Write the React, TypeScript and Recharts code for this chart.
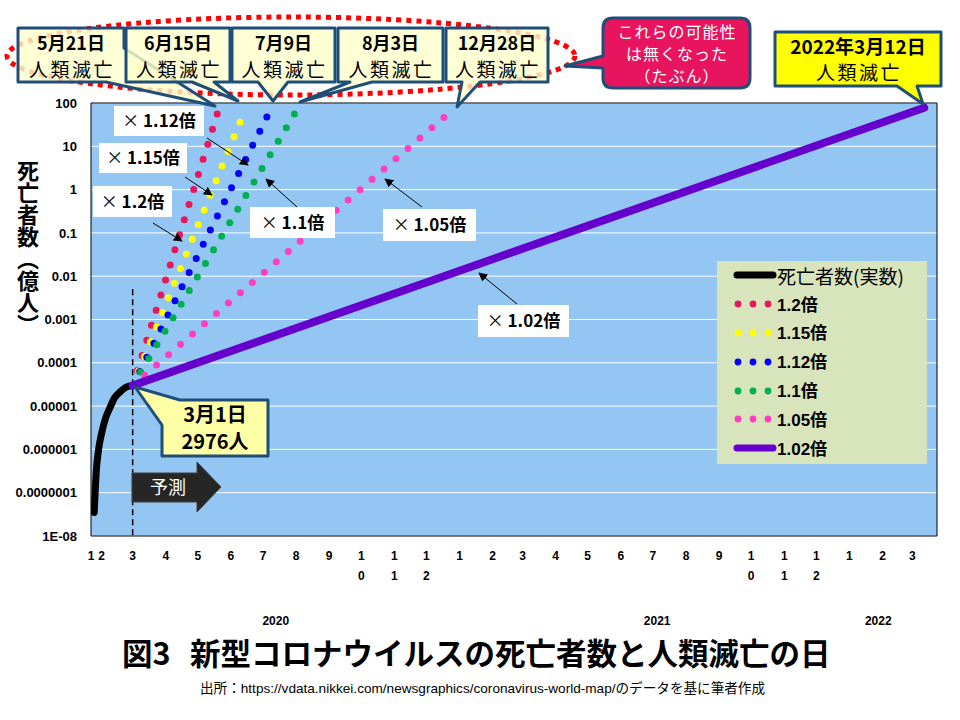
import React from 'react'
import {
  LineChart,
  Line,
  XAxis,
  YAxis,
  CartesianGrid,
  ReferenceArea,
  ReferenceLine,
  Legend,
} from 'recharts'

const ORIGIN = '2020-01-22'
const AXIS_END = '2022-03-24'
const toDay = (s: string) => Math.round((Date.parse(s) - Date.parse(ORIGIN)) / 86400000)

// actual deaths, in 億人
const actualDates = [
  '2020-01-25', '2020-01-26', '2020-01-27', '2020-01-29', '2020-02-01', '2020-02-05',
  '2020-02-09', '2020-02-13', '2020-02-18', '2020-02-24', '2020-03-01',
]
const actualDeaths = [3.5e-8, 1.2e-7, 3.3e-7, 9.5e-7, 2.4e-6, 5.6e-6, 9.5e-6, 1.55e-5, 2.1e-5, 2.75e-5, 2.976e-5]

// forecasts: daily growth rate, start on 3/1 with 2976 people, end when everyone is gone
const forecastNames = ['1.2倍', '1.15倍', '1.12倍', '1.1倍', '1.05倍', '1.02倍']
const forecastColors = ['#E8175D', '#FFFF00', '#0000FF', '#00B050', '#FF3FC0', '#6600CC']
const forecastStartDate = '2020-03-01'
const forecastStartValue = 2.976e-5
const forecastEndDates = ['2020-05-21', '2020-06-15', '2020-07-09', '2020-08-03', '2020-12-28', '2022-03-12']
const forecastEndValues = [78, 78, 78, 78, 78, 78]

const monthTickDates = [
  '2020-01-22', '2020-02-01', '2020-03-01', '2020-04-01', '2020-05-01', '2020-06-01', '2020-07-01',
  '2020-08-01', '2020-09-01', '2020-10-01', '2020-11-01', '2020-12-01', '2021-01-01', '2021-02-01',
  '2021-03-01', '2021-04-01', '2021-05-01', '2021-06-01', '2021-07-01', '2021-08-01', '2021-09-01',
  '2021-10-01', '2021-11-01', '2021-12-01', '2022-01-01', '2022-02-01', '2022-03-01',
]
const monthTickLabels = [
  '1', '2', '3', '4', '5', '6', '7', '8', '9', '10', '11', '12', '1', '2',
  '3', '4', '5', '6', '7', '8', '9', '10', '11', '12', '1', '2', '3',
]
const yearLabelDates = ['2020-07-13', '2021-07-05', '2022-01-28']
const yearLabels = ['2020', '2021', '2022']

const yTicks = [1e-8, 1e-7, 1e-6, 1e-5, 1e-4, 1e-3, 1e-2, 1e-1, 1, 10, 100]
const yTickLabels = ['1E-08', '0.0000001', '0.000001', '0.00001', '0.0001', '0.001', '0.01', '0.1', '1', '10', '100']

const actualData = actualDates.map((d, i) => ({ d: toDay(d), v: actualDeaths[i] }))
const forecastData = forecastEndDates.map((end, i) => [
  { d: toDay(forecastStartDate), v: forecastStartValue },
  { d: toDay(end), v: forecastEndValues[i] },
])
const monthDays = monthTickDates.map(toDay)
const monthLabelByDay = new Map(monthDays.map((d, i) => [d, monthTickLabels[i]]))
const yearDays = yearLabelDates.map(toDay)
const yearLabelByDay = new Map(yearDays.map((d, i) => [d, yearLabels[i]]))
const yLabelByValue = new Map(yTicks.map((v, i) => [v, yTickLabels[i]]))

const NARROW = '"Liberation Sans Narrow", "Liberation Sans", Arial, sans-serif'
const SANS = '"Liberation Sans", Arial, sans-serif'
const JP = '"Noto Sans CJK JP", sans-serif'
const BLUE = '#1F4E79'

const MonthTick = (props: any) => {
  const { x, y, payload } = props
  const label = monthLabelByDay.get(payload.value) ?? ''
  return (
    <text x={x} y={y} textAnchor="middle" fontSize={12} fontWeight="bold" fontFamily={NARROW} fill="#000">
      {label.split('').map((c, i) => (
        <tspan key={i} x={x} dy={i === 0 ? 24 : 20}>{c}</tspan>
      ))}
    </text>
  )
}

const YearTick = (props: any) => {
  const { x, y, payload } = props
  return (
    <text x={x} y={y + 59} textAnchor="middle" fontSize={12} fontWeight="bold" fontFamily={NARROW} fill="#000">
      {yearLabelByDay.get(payload.value)}
    </text>
  )
}

const renderLegend = () => (
  <div style={{ width: 210, height: 203, background: '#D8E4BC', fontFamily: JP }}>
    <div style={{ height: 28.8, display: 'flex', alignItems: 'center' }}>
      <svg width={60} height={20}>
        <line x1={20} y1={10} x2={56} y2={10} stroke="#000" strokeWidth={7} strokeLinecap="round" />
      </svg>
      <span style={{ fontSize: 19, lineHeight: 1 }}>死亡者数(実数)</span>
    </div>
    {forecastNames.map((name, i) => (
      <div key={name} style={{ height: 28.8, display: 'flex', alignItems: 'center' }}>
        <svg width={60} height={20}>
          {i === forecastNames.length - 1 ? (
            <line x1={20} y1={10} x2={56} y2={10} stroke={forecastColors[i]} strokeWidth={7} strokeLinecap="round" />
          ) : (
            [21, 36, 51].map((cx) => <circle key={cx} cx={cx} cy={10} r={3.4} fill={forecastColors[i]} />)
          )}
        </svg>
        <span style={{ fontSize: 17, fontWeight: 'bold', fontFamily: SANS, lineHeight: 1 }}>
          {name.replace('倍', '')}
          <span style={{ fontFamily: JP }}>倍</span>
        </span>
      </div>
    ))}
  </div>
)

// annotation boxes (outside the data)
const dayBoxes = [
  { d: 'M18,28 H124 V48 L215,106 L106,82 H18 Z', cx: 71, date: '5月21日' },
  { d: 'M126,28 H230 V82 H214 L238,101 L192,82 H126 Z', cx: 178, date: '6月15日' },
  { d: 'M232,28 H335 V82 H288 L273,101 L258,82 H232 Z', cx: 283.5, date: '7月9日' },
  { d: 'M338,28 H443 V82 H372 L300,102 L350,82 H338 Z', cx: 390.5, date: '8月3日' },
  { d: 'M446,28 H548 V82 H480 L457,107 L462,82 H446 Z', cx: 497, date: '12月28日' },
]
const rateLabels = [
  { x: 114, y: 106, w: 90, h: 30, t: '1.12倍', ax: [207, 138, 248, 165] },
  { x: 99, y: 143, w: 88, h: 30, t: '1.15倍', ax: [185, 177, 212, 195] },
  { x: 93, y: 186, w: 79, h: 31, t: '1.2倍', ax: [153, 223, 182, 241] },
  { x: 250, y: 207, w: 85, h: 31, t: '1.1倍', ax: [297, 207, 266, 179] },
  { x: 383, y: 209, w: 93, h: 32, t: '1.05倍', ax: [422, 207, 385, 179] },
  { x: 478, y: 305, w: 91, h: 32, t: '1.02倍', ax: [517, 304, 479, 273] },
]

function Overlay() {
  return (
    <svg width={960} height={720} style={{ position: 'absolute', left: 0, top: 0, pointerEvents: 'none' }}>
      <defs>
        <marker id="ah" viewBox="0 0 10 10" refX="9" refY="5" markerWidth="9" markerHeight="9" markerUnits="userSpaceOnUse" orient="auto">
          <path d="M0,0 L10,5 L0,10 z" fill="#000" />
        </marker>
      </defs>

      <ellipse cx={291} cy={56} rx={284} ry={39} fill="none" stroke="#FF0000" strokeWidth={5} strokeDasharray="5 5" />
      {dayBoxes.map((b) => (
        <g key={b.date}>
          <path d={b.d} fill="#FFFFCC" fillOpacity={0.8} stroke={BLUE} strokeWidth={3} strokeLinejoin="round" />
          <text x={b.cx} y={50} textAnchor="middle" fontSize={18} fontWeight="bold" fontFamily={JP}>{b.date}</text>
          <text x={b.cx + 1} y={77} textAnchor="middle" fontSize={19} letterSpacing={2.5} fontFamily={JP}>人類滅亡</text>
        </g>
      ))}

      <path
        d="M613,18 H740 Q750,18 750,28 V78 Q750,88 740,88 H613 Q603,88 603,78 V68 L565,66 L603,56 V28 Q603,18 613,18 Z"
        fill="#E8145E" stroke={BLUE} strokeWidth={3} strokeLinejoin="round"
      />
      <g fill="#fff" fontSize={16} fontFamily={JP} textAnchor="middle">
        <text x={677} y={38} letterSpacing={1}>これらの可能性</text>
        <text x={677} y={60} letterSpacing={1}>は無くなった</text>
        <text x={677} y={82} letterSpacing={1}>（たぶん）</text>
      </g>

      <path d="M775,32 H941 V86 H917 L923,104 L897,86 H775 Z" fill="#FFFF00" stroke={BLUE} strokeWidth={3} strokeLinejoin="round" />
      <text x={858} y={54} textAnchor="middle" fontSize={19} fontWeight="bold" fontFamily={JP}>2022年3月12日</text>
      <text x={859} y={80} textAnchor="middle" fontSize={19} letterSpacing={2.5} fontFamily={JP}>人類滅亡</text>

      <path d="M180,400 H268 V456 H162 V425 L135,387 Z" fill="#FFFFA6" stroke={BLUE} strokeWidth={3} strokeLinejoin="round" />
      <text x={215} y={422} textAnchor="middle" fontSize={20} fontWeight="bold" fontFamily={JP}>3月1日</text>
      <text x={215} y={449} textAnchor="middle" fontSize={20} fontWeight="bold" fontFamily={JP}>2976人</text>

      <path d="M132,473 H197 V462 L221,487 L197,512 V502 H132 Z" fill="#262626" stroke="#404040" strokeWidth={1} />
      <text x={168} y={494} textAnchor="middle" fontSize={18} fill="#fff" fontFamily={JP}>予測</text>

      {rateLabels.map((l) => (
        <g key={l.t}>
          <rect x={l.x} y={l.y} width={l.w} height={l.h} fill="#fff" />
          <text x={l.x + l.w / 2} y={l.y + l.h / 2 + 6} textAnchor="middle" fontSize={17} fontFamily={JP}>
            <tspan>× </tspan>
            <tspan fontWeight="bold">{l.t}</tspan>
          </text>
          <line x1={l.ax[0]} y1={l.ax[1]} x2={l.ax[2]} y2={l.ax[3]} stroke="#000" strokeWidth={1} markerEnd="url(#ah)" />
        </g>
      ))}

      <text x={122} y={665} fontSize={30.5} fontWeight="bold" fontFamily={JP}>図3</text>
      <text x={190} y={665} fontSize={30.5} fontWeight="bold" fontFamily={JP}>新型コロナウイルスの死亡者数と人類滅亡の日</text>
      <text x={200} y={693} fontSize={13.6} fontFamily={NARROW}>
        <tspan fontFamily={JP}>出所：</tspan>https://vdata.nikkei.com/newsgraphics/coronavirus-world-map/<tspan fontFamily={JP}>のデータを基に筆者作成</tspan>
      </text>
    </svg>
  )
}

export default function App() {
  const dotted = forecastNames.slice(0, 5)
  return (
    <div style={{ position: 'absolute', left: 0, top: 0, width: 960, height: 720, background: '#fff', fontFamily: '"Liberation Sans", Arial, "Noto Sans CJK JP", sans-serif' }}>
      <LineChart width={960} height={720} margin={{ top: 103, right: 23, bottom: 94, left: 0 }}>
        <CartesianGrid vertical={false} stroke="#fff" strokeWidth={1} fill="#93C6F3" fillOpacity={1} />
        <XAxis
          dataKey="d"
          type="number"
          domain={[0, toDay(AXIS_END)]}
          allowDataOverflow
          ticks={monthDays}
          interval={0}
          tick={<MonthTick />}
          tickLine={false}
          axisLine={false}
          tickSize={0}
          tickMargin={0}
          height={30}
        />
        <XAxis
          xAxisId="yr"
          dataKey="d"
          type="number"
          domain={[0, toDay(AXIS_END)]}
          allowDataOverflow
          ticks={yearDays}
          interval={0}
          tick={<YearTick />}
          tickLine={false}
          axisLine={false}
          tickSize={0}
          tickMargin={0}
          height={60}
        />
        <YAxis
          type="number"
          scale="log"
          domain={[1e-8, 100]}
          allowDataOverflow
          ticks={yTicks}
          interval={0}
          width={91}
          tickFormatter={(v: number) => yLabelByValue.get(v) ?? ''}
          tick={{ fontSize: 13, fontWeight: 'bold', fill: '#000', fontFamily: SANS }}
          tickLine={false}
          axisLine={false}
          tickSize={0}
          tickMargin={14}
        />
        <ReferenceArea x1={0} x2={toDay(AXIS_END)} y1={1e-8} y2={100} fill="none" stroke="#000" strokeWidth={1} fillOpacity={0} />
        <ReferenceLine
          segment={[{ x: toDay(forecastStartDate), y: 0.005 }, { x: toDay(forecastStartDate), y: 1e-8 }]}
          stroke="#000"
          strokeWidth={1.5}
          strokeDasharray="6 4"
        />
        <Line
          data={actualData}
          dataKey="v"
          name="死亡者数(実数)"
          type="monotone"
          stroke="#000"
          strokeWidth={7}
          strokeLinecap="round"
          dot={false}
          activeDot={false}
          isAnimationActive={false}
        />
        {dotted.map((name, i) => (
          <Line
            key={name}
            data={forecastData[i]}
            dataKey="v"
            name={name}
            type="linear"
            stroke={forecastColors[i]}
            strokeWidth={7}
            strokeLinecap="round"
            strokeDasharray="0 15.8"
            dot={false}
            activeDot={false}
            isAnimationActive={false}
          />
        ))}
        <Line
          data={forecastData[5]}
          dataKey="v"
          name={forecastNames[5]}
          type="linear"
          stroke={forecastColors[5]}
          strokeWidth={8}
          strokeLinecap="round"
          dot={false}
          activeDot={false}
          isAnimationActive={false}
        />
        <Legend
          layout="horizontal"
          align="center"
          verticalAlign="middle"
          content={renderLegend}
          wrapperStyle={{ left: 717, top: 261, width: 210, height: 203 }}
        />
      </LineChart>
      <div
        style={{
          position: 'absolute',
          left: 17,
          top: 160,
          writingMode: 'vertical-rl',
          fontSize: 22,
          fontWeight: 'bold',
          fontFamily: JP,
          lineHeight: 1,
          color: '#000',
        }}
      >
        死亡者数（億人）
      </div>
      <Overlay />
    </div>
  )
}
